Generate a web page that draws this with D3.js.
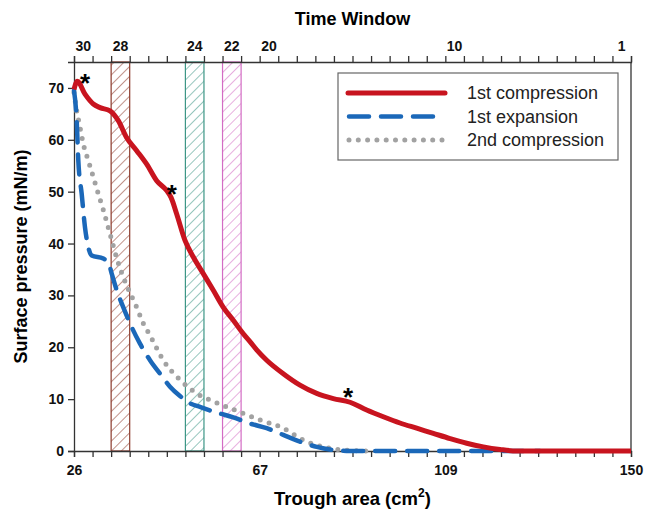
<!DOCTYPE html>
<html>
<head>
<meta charset="utf-8">
<script src="https://cdn.jsdelivr.net/npm/d3@7"></script>
<style>
	body { margin: 0; background: #fff; }
	svg { font-family: "Liberation Sans", Arial, sans-serif; }
</style>
</head>
<body>
<div id="chart"></div>
<script>
// trough area (cm2) vs surface pressure (mN/m)
const compression1 = [
	[26, 69.7], [26.73, 71.3], [28.45, 68.8], [30.3, 66.9], [31.79, 66.2], [34.01, 65.6],
	[35.86, 63.7], [37.73, 60.4], [39.96, 57.9], [42.18, 55.3], [44.41, 52.1], [46.64, 50.2],
	[47.6, 48.9], [48.86, 45.7], [50.71, 40.6], [52.56, 37.4], [54.78, 34.2], [57.01, 31],
	[59.24, 27.7], [61.46, 25.2], [63.69, 22.6], [65.18, 21.1], [66.67, 19.5], [68.9, 17.5],
	[72.59, 14.9], [76.31, 12.7], [80.03, 11.1], [83.73, 10.1], [87.44, 9.4], [91.16, 7.9],
	[94.86, 6.6], [98.57, 5.4], [102.29, 4.4], [105.99, 3.4], [109.71, 2.4], [113.42, 1.5],
	[117.12, 0.8], [120.84, 0.3], [124.55, 0], [150, 0]
]
const expansion1 = [
	[26, 69.5], [26.6, 63.7], [26.96, 56], [27.71, 49.6], [28.45, 43.1], [29.18, 39.3],
	[29.94, 37.7], [32.52, 37.1], [33.64, 36.4], [34.39, 34.2], [35.51, 31], [36.98, 27.7],
	[38.47, 24.6], [40.69, 20.7], [42.92, 17.5], [45.15, 14.9], [47.37, 12.4], [49.6, 10.6],
	[51.82, 9.2], [54.05, 8.5], [57.77, 7.4], [61.46, 6.5], [65.18, 5.3], [68.9, 4.4],
	[72.59, 3.1], [76.31, 1.8], [80.03, 0.8], [83.73, 0.2], [87.44, 0], [129.74, 0]
]
const compression2 = [
	[26, 69.1], [26.6, 65.6], [27.34, 62.4], [28.07, 59.2], [29.18, 56], [30.3, 52.8],
	[31.41, 49.6], [32.52, 46.5], [34.01, 41.9], [35.51, 37.2], [36.98, 33.5], [38.47, 30.5],
	[39.96, 27.7], [41.43, 24.6], [42.92, 22.3], [45.88, 17.5], [49.6, 13.7], [53.32, 11.1],
	[57.77, 9.3], [62.96, 7.5], [67.41, 6], [72.59, 4.4], [77.05, 2.1], [81.5, 0.8],
	[85.95, 0.2], [91.45, 0]
]

const seriesNames = ["1st compression", "1st expansion", "2nd compression"]
const yTicks = [0, 10, 20, 30, 40, 50, 60, 70]
const bottomLabels = ["26", "67", "109", "150"]
const windowLabels = [30, 28, 24, 22, 20, 10, 1]
const highlightedWindows = [28, 24, 22]
const asterisks = [[28.45, 72.3], [47.8, 50.8], [87.0, 11.7]]

const areaMin = 26
const areaMax = 150
const windowCount = 30
const windowStep = (areaMax - areaMin) / windowCount
const windowStart = (n) => areaMin + (windowCount - n) * windowStep

const margin = { top: 62, right: 14, bottom: 61, left: 74 }
const totalWidth = 645
const totalHeight = 512
const width = totalWidth - margin.left - margin.right
const height = totalHeight - margin.top - margin.bottom

const svg = d3
	.select("#chart")
	.append("svg")
	.attr("width", totalWidth)
	.attr("height", totalHeight)

const defs = svg.append("defs")
const bandColors = { 28: "#8c3a2c", 24: "#3d9686", 22: "#d36cc4" }
highlightedWindows.forEach((w) => {
	const p = defs
		.append("pattern")
		.attr("id", `hatch-${w}`)
		.attr("patternUnits", "userSpaceOnUse")
		.attr("width", 7)
		.attr("height", 7)
		.attr("patternTransform", "rotate(45)")
	p.append("line")
		.attr("x1", 0)
		.attr("y1", 0)
		.attr("x2", 0)
		.attr("y2", 7)
		.attr("stroke", bandColors[w])
		.attr("stroke-width", 1.1)
})

const g = svg
	.append("g")
	.attr("transform", `translate(${margin.left},${margin.top})`)

const x = d3.scaleLinear().domain([areaMin, areaMax]).range([0, width])
const y = d3.scaleLinear().domain([0, 75]).range([height, 0])

// hatched time-window bands
highlightedWindows.forEach((w) => {
	g.append("rect")
		.attr("x", x(windowStart(w)))
		.attr("y", 0)
		.attr("width", x(windowStart(w) + windowStep) - x(windowStart(w)))
		.attr("height", height)
		.attr("fill", `url(#hatch-${w})`)
		.attr("stroke", bandColors[w])
		.attr("stroke-width", 1.2)
})

// axes
const boundaries = d3.range(windowCount + 1).map((i) => areaMin + i * windowStep)
const axisColor = "#333"

const xAxis = g
	.append("g")
	.attr("transform", `translate(0,${height})`)
	.call(
		d3
			.axisBottom(x)
			.tickValues(boundaries)
			.tickSize(6)
			.tickPadding(8)
			.tickFormat((d, i) => (i % 10 === 0 ? bottomLabels[i / 10] : ""))
	)

const topAxis = g
	.append("g")
	.call(d3.axisTop(x).tickValues(boundaries).tickSize(6).tickFormat(""))

const yAxis = g
	.append("g")
	.call(d3.axisLeft(y).tickValues(yTicks).tickSize(6).tickPadding(4))

;[xAxis, topAxis, yAxis].forEach((a) => {
	a.selectAll("path, line").attr("stroke", axisColor).attr("stroke-width", 1.3)
	a.selectAll("text")
		.attr("fill", "#111")
		.style("font-size", "14px")
		.style("font-weight", "bold")
})

g.append("line")
	.attr("x1", width)
	.attr("x2", width)
	.attr("y1", 0)
	.attr("y2", height)
	.attr("stroke", axisColor)
	.attr("stroke-width", 1.3)

// window labels centred in each window on the top axis
g.selectAll(".window-label")
	.data(windowLabels)
	.join("text")
	.attr("class", "window-label")
	.attr("x", (d) => x(windowStart(d) + windowStep / 2))
	.attr("y", -11)
	.attr("text-anchor", "middle")
	.style("font-size", "14px")
	.style("font-weight", "bold")
	.attr("fill", "#111")
	.text((d) => d)

// axis titles
svg.append("text")
	.attr("x", margin.left + width / 2)
	.attr("y", 25)
	.attr("text-anchor", "middle")
	.style("font-size", "18px")
	.style("font-weight", "bold")
	.text("Time Window")

const xTitle = svg
	.append("text")
	.attr("x", margin.left + width / 2)
	.attr("y", 505)
	.attr("text-anchor", "middle")
	.style("font-size", "18.5px")
	.style("font-weight", "bold")
xTitle.append("tspan").text("Trough area (cm")
xTitle.append("tspan").attr("dy", -8).style("font-size", "12px").text("2")
xTitle.append("tspan").attr("dy", 8).text(")")

svg.append("text")
	.attr("transform", `translate(27,${margin.top + height / 2}) rotate(-90)`)
	.attr("text-anchor", "middle")
	.style("font-size", "18px")
	.style("font-weight", "bold")
	.text("Surface pressure (mN/m)")

// lines
const line = d3
	.line()
	.x((d) => x(d[0]))
	.y((d) => y(d[1]))
	.curve(d3.curveMonotoneX)

const styles = [
	{ data: compression1, color: "#c8141f", width: 5, dash: null, cap: "butt" },
	{ data: expansion1, color: "#1b68b9", width: 4.5, dash: "20,12", cap: "round" },
	{ data: compression2, color: "#a2a2a2", width: 5, dash: "0,9.3", cap: "round" },
]

// draw 2nd compression first, then expansion, then compression on top
;[2, 1, 0].forEach((i) => {
	const s = styles[i]
	g.append("path")
		.datum(s.data)
		.attr("fill", "none")
		.attr("stroke", s.color)
		.attr("stroke-width", s.width)
		.attr("stroke-linecap", s.cap)
		.attr("stroke-linejoin", "round")
		.attr("stroke-dasharray", s.dash)
		.attr("d", line)
})

// asterisks
g.selectAll(".star")
	.data(asterisks)
	.join("text")
	.attr("class", "star")
	.attr("x", (d) => x(d[0]))
	.attr("y", (d) => y(d[1]))
	.attr("dy", "0.6em")
	.attr("text-anchor", "middle")
	.style("font-size", "26px")
	.style("font-weight", "bold")
	.text("*")

// legend
const legend = svg.append("g").attr("transform", "translate(338,73)")
legend
	.append("rect")
	.attr("width", 280)
	.attr("height", 87)
	.attr("fill", "#fff")
	.attr("stroke", "#666")
	.attr("stroke-width", 1.2)

styles.forEach((s, i) => {
	const row = legend.append("g").attr("transform", `translate(0,${20 + i * 23.5})`)
	row.append("line")
		.attr("x1", s.cap === "round" ? 11 : 10)
		.attr("x2", s.cap === "round" ? 106 : 107)
		.attr("stroke", s.color)
		.attr("stroke-width", s.width)
		.attr("stroke-linecap", "round")
		.attr("stroke-dasharray", s.dash)
	row.append("text")
		.attr("x", 129)
		.attr("y", 0)
		.attr("dy", "0.35em")
		.style("font-size", "18px")
		.attr("fill", "#222")
		.text(seriesNames[i])
})
</script>
</body>
</html>
